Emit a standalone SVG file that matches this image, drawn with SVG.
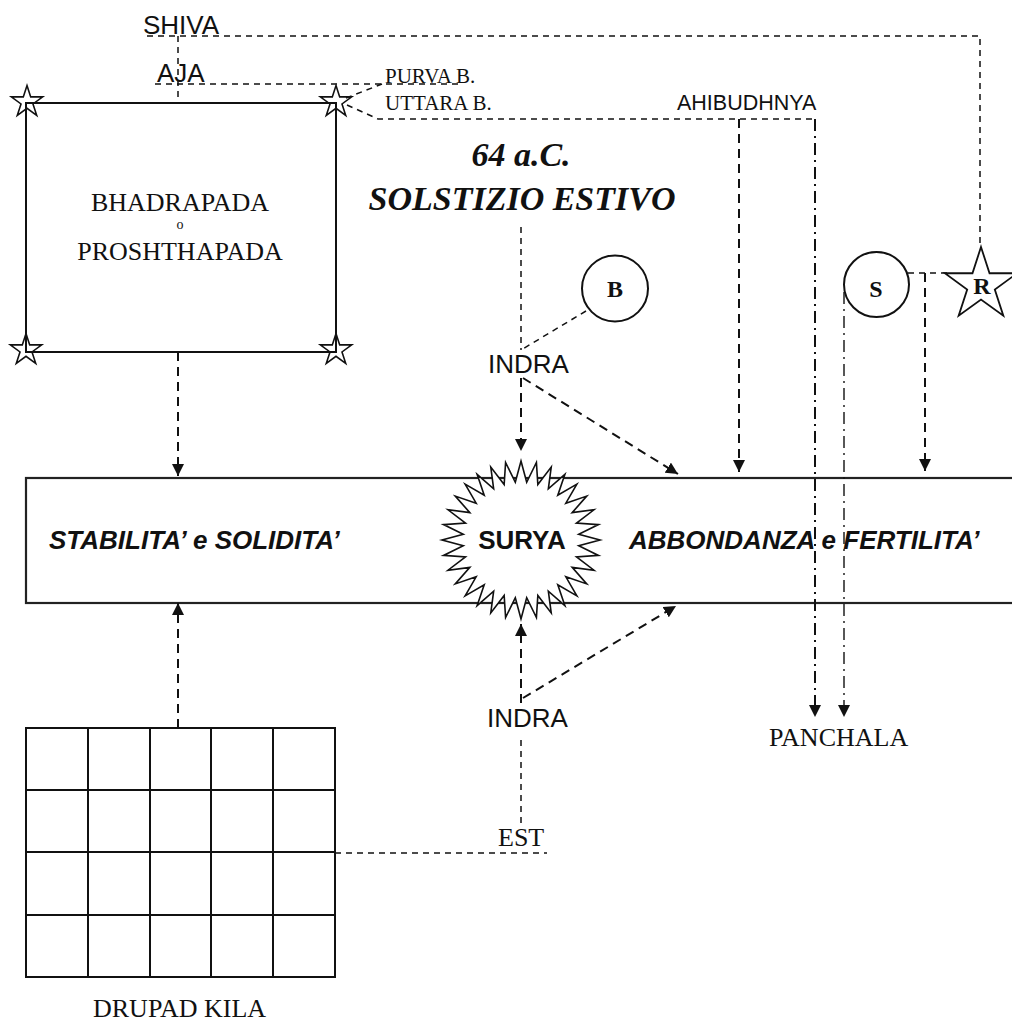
<svg xmlns="http://www.w3.org/2000/svg" width="1012" height="1021" viewBox="0 0 1012 1021">
<style>
.sans{font-family:"Liberation Sans",Arial,sans-serif;fill:#111}
.serif{font-family:"Liberation Serif","Times New Roman",serif;fill:#111}
.box{fill:none;stroke:#111;stroke-width:2}
.band{fill:#fff;stroke:#222;stroke-width:2.2}
.thin{fill:none;stroke:#111;stroke-width:1.5;stroke-dasharray:6 5}
.thick{fill:none;stroke:#111;stroke-width:2;stroke-dasharray:9 6}
.dd{fill:none;stroke:#111;stroke-width:2;stroke-dasharray:12 5 2 5}
.dd2{fill:none;stroke:#111;stroke-width:1.4;stroke-dasharray:12 5 2 5}
.star{fill:none;stroke:#111;stroke-width:1.6}
</style>
<defs>
<marker id="ah" viewBox="0 0 12 12" refX="12" refY="6" markerWidth="12" markerHeight="12" markerUnits="userSpaceOnUse" orient="auto">
<path d="M0,0 L12,6 L0,12 Z" fill="#111"/>
</marker>
<path id="cstar" d="M0,-16.5 L3.7,-5.1 L15.69,-5.1 L5.99,1.95 L9.7,13.35 L0,6.3 L-9.7,13.35 L-5.99,1.95 L-15.69,-5.1 L-3.7,-5.1 Z"/>
</defs>

<g id="band">
<rect class="band" x="26" y="478" width="1000" height="125"/>
<text class="sans" x="49" y="549" font-size="26" font-weight="bold" font-style="italic">STABILITA’ e SOLIDITA’</text>
<text class="sans" x="629" y="549" font-size="26" font-weight="bold" font-style="italic">ABBONDANZA e FERTILITA’</text>
</g>

<g id="connectors">
<path class="thin" d="M147,36 H980 V247"/>
<path class="thin" d="M178,36 V103"/>
<path class="thin" d="M155,84 H460"/>
<path class="thin" d="M346,98 L382,84"/>
<path class="thin" d="M347,105 L378,119 H815"/>
<path class="thick" d="M739,119 V472" marker-end="url(#ah)"/>
<path class="dd" d="M815,119 V717" marker-end="url(#ah)"/>
<path class="thick" d="M178,352 V476" marker-end="url(#ah)"/>
<path class="thin" d="M521,227 V350"/>
<path class="thin" d="M586,311 L521,350"/>
<path class="thick" d="M521,378 V451" marker-end="url(#ah)"/>
<path class="thick" d="M523,378 L678,474" marker-end="url(#ah)"/>
<path class="thin" d="M908,273 H947"/>
<path class="thick" d="M925,273 V471" marker-end="url(#ah)"/>
<path class="dd2" d="M844,292 V717" marker-end="url(#ah)"/>
<path class="thick" d="M178,728 V603" marker-end="url(#ah)"/>
<path class="thick" d="M521,703 V624" marker-end="url(#ah)"/>
<path class="thick" d="M523,698 L676,606" marker-end="url(#ah)"/>
<path class="thin" d="M521,823 V737"/>
<path class="thin" d="M335,853 H547"/>
</g>

<g id="shiva"><text class="sans" x="143" y="34" font-size="26">SHIVA</text></g>
<g id="aja"><text class="sans" x="157" y="82" font-size="26">AJA</text></g>
<g id="purva"><text class="serif" x="385" y="83" font-size="21">PURVA B.</text></g>
<g id="uttara"><text class="serif" x="385" y="110" font-size="21">UTTARA B.</text></g>
<g id="ahibudhnya"><text class="sans" x="677" y="110" font-size="21.5">AHIBUDHNYA</text></g>

<g id="bhadrapada">
<rect class="box" x="26" y="103" width="310" height="249"/>
<use href="#cstar" class="star" x="27" y="102"/>
<use href="#cstar" class="star" x="336" y="102"/>
<use href="#cstar" class="star" x="26" y="350"/>
<use href="#cstar" class="star" x="336" y="350"/>
<text class="serif" x="180" y="211" font-size="26" text-anchor="middle">BHADRAPADA</text>
<text class="serif" x="180" y="229" font-size="14" text-anchor="middle">o</text>
<text class="serif" x="180" y="260" font-size="26" text-anchor="middle">PROSHTHAPADA</text>
</g>

<g id="solstizio">
<text class="serif" x="521" y="166" font-size="34" font-weight="bold" font-style="italic" text-anchor="middle">64 a.C.</text>
<text class="serif" x="522" y="210" font-size="34" font-weight="bold" font-style="italic" text-anchor="middle">SOLSTIZIO ESTIVO</text>
</g>

<g id="b">
<circle cx="615" cy="288.5" r="33" fill="#fff" stroke="#111" stroke-width="2"/>
<text class="serif" x="615" y="297" font-size="24" font-weight="bold" text-anchor="middle">B</text>
</g>

<g id="indra-top"><text class="sans" x="488" y="373" font-size="26">INDRA</text></g>

<g id="s">
<circle cx="876.5" cy="284.5" r="32.5" fill="#fff" stroke="#111" stroke-width="2"/>
<text class="serif" x="876" y="297" font-size="24" font-weight="bold" text-anchor="middle">S</text>
</g>

<g id="r">
<path transform="translate(981,285)" fill="#fff" stroke="#111" stroke-width="1.8" d="M0,-38 L8.53,-11.75 L36.14,-11.74 L13.81,4.49 L22.34,30.74 L0,14.52 L-22.34,30.74 L-13.81,4.49 L-36.14,-11.74 L-8.53,-11.75 Z"/>
<text class="serif" x="982" y="294" font-size="24" font-weight="bold" text-anchor="middle">R</text>
</g>

<g id="surya">
<path transform="translate(521,540)" fill="#fff" stroke="#111" stroke-width="1.6" stroke-linejoin="miter" d="M0,-79 L5.69,-57.72 L15.41,-77.48 L16.84,-55.5 L30.23,-72.99 L27.34,-51.15 L43.89,-65.69 L36.79,-44.83 L55.86,-55.86 L44.83,-36.79 L65.69,-43.89 L51.15,-27.34 L72.99,-30.23 L55.5,-16.84 L77.48,-15.41 L57.72,-5.69 L79,0 L57.72,5.69 L77.48,15.41 L55.5,16.84 L72.99,30.23 L51.15,27.34 L65.69,43.89 L44.83,36.79 L55.86,55.86 L36.79,44.83 L43.89,65.69 L27.34,51.15 L30.23,72.99 L16.84,55.5 L15.41,77.48 L5.69,57.72 L0,79 L-5.69,57.72 L-15.41,77.48 L-16.84,55.5 L-30.23,72.99 L-27.34,51.15 L-43.89,65.69 L-36.79,44.83 L-55.86,55.86 L-44.83,36.79 L-65.69,43.89 L-51.15,27.34 L-72.99,30.23 L-55.5,16.84 L-77.48,15.41 L-57.72,5.69 L-79,0 L-57.72,-5.69 L-77.48,-15.41 L-55.5,-16.84 L-72.99,-30.23 L-51.15,-27.34 L-65.69,-43.89 L-44.83,-36.79 L-55.86,-55.86 L-36.79,-44.83 L-43.89,-65.69 L-27.34,-51.15 L-30.23,-72.99 L-16.84,-55.5 L-15.41,-77.48 L-5.69,-57.72 Z"/>
<text class="sans" x="522" y="549" font-size="26" font-weight="bold" text-anchor="middle">SURYA</text>
</g>

<g id="indra-bottom"><text class="sans" x="487" y="727" font-size="26">INDRA</text></g>
<g id="panchala"><text class="serif" x="769" y="746" font-size="26">PANCHALA</text></g>
<g id="est"><text class="serif" x="498" y="846" font-size="26">EST</text></g>

<g id="drupad-kila">
<rect class="box" x="26" y="728" width="309" height="249"/>
<path class="box" d="M88,728 V977 M150,728 V977 M211,728 V977 M273,728 V977 M26,790 H335 M26,852 H335 M26,915 H335"/>
<text class="serif" x="93" y="1017" font-size="26">DRUPAD KILA</text>
</g>
</svg>
